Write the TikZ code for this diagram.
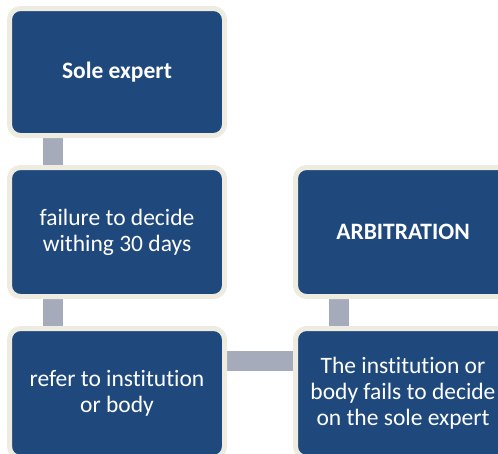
\documentclass[tikz,border=0pt]{standalone}
\usepackage{fontspec}
\setmainfont[Ligatures=NoCommon]{Carlito}
\usetikzlibrary{backgrounds}
\definecolor{boxfill}{HTML}{1F497D}
\definecolor{boxline}{HTML}{EEECE1}
\definecolor{connc}{HTML}{A5ABBA}
\begin{document}
\begin{tikzpicture}[x=1pt,y=-1pt,
  stepbox/.style={draw=boxline, fill=boxfill, line width=5pt, rounded corners=11pt,
    minimum width=215pt, minimum height=129pt, inner sep=0pt, text=white,
    align=center, font=\fontsize{23.5}{26}\selectfont},
  conn/.style={draw=connc, line width=20pt}]
\path[use as bounding box, clip] (0,0) rectangle (498,453);
\node[stepbox, minimum height=127pt] (b1) at (117,72) {\textbf{Sole expert}};
\node[stepbox] (b2) at (117,232) {failure to decide\\withing 30 days};
\node[stepbox] (b3) at (117,393) {refer to institution\\or body};
\node[stepbox] (b4) at (403,232) {\textbf{ARBITRATION}};
\node[stepbox] (b5) at (403,393) {The institution or\\body fails to decide\\on the sole expert};
\begin{scope}[on background layer]
\draw[conn] ([xshift=-64pt]b1.south) -- ([xshift=-64pt]b2.north);
\draw[conn] ([xshift=-64pt]b2.south) -- ([xshift=-64pt]b3.north);
\draw[conn] ([xshift=-64pt]b4.south) -- ([xshift=-64pt]b5.north);
\draw[conn] ([yshift=32pt]b3.east) -- ([yshift=32pt]b5.west);
\end{scope}
\end{tikzpicture}
\end{document}
